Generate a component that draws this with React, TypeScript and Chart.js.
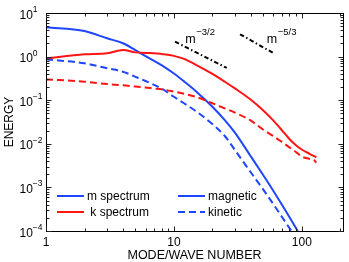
import React, { useEffect, useRef } from "react";
import { Chart, registerables } from "chart.js";

Chart.register(...registerables);

// ---- data ----
const WAVE_NUMBERS = [1, 2, 3, 4, 5, 6, 7, 8, 10, 12, 15, 20, 25, 30, 40, 50, 60, 70, 80, 90, 100, 115, 125, 130];
const M_MAGNETIC = [4.7, 3.86, 2.63, 2.02, 1.4, 1.03, 0.8, 0.64, 0.41, 0.27, 0.157, 0.071, 0.035, 0.018, 0.0051, 0.0019, 0.00083, 0.0004, 0.00021, 0.000117, 0.000068, 0.00003, 0.000017, 0.000013];
const M_KINETIC = [0.87, 0.7, 0.54, 0.45, 0.344, 0.275, 0.225, 0.185, 0.12, 0.085, 0.055, 0.0284, 0.0151, 0.0072, 0.0022, 0.00089, 0.00041, 0.00021, 0.000117, 0.00007, 0.000045, 0.00002, 0.000012, 0.00001];
const K_MAGNETIC = [0.91, 1.13, 1.19, 1.42, 1.25, 1.21, 1.2, 1.15, 1.04, 0.885, 0.64, 0.4, 0.265, 0.186, 0.102, 0.058, 0.034, 0.0204, 0.0129, 0.0093, 0.0074, 0.0059, 0.0052, 0.0049];
const K_KINETIC = [0.3, 0.266, 0.235, 0.22, 0.205, 0.195, 0.185, 0.178, 0.157, 0.14, 0.118, 0.085, 0.065, 0.052, 0.034, 0.021, 0.015, 0.011, 0.0083, 0.0065, 0.0051, 0.0045, 0.0042, 0.0037];

const SLOPE_32_K = [10.2, 25.9];
const SLOPE_32_E = [2.2, 0.55];
const SLOPE_53_K = [32.9, 61.7];
const SLOPE_53_E = [3.25, 1.15];
const SLOPE_LABEL_TEXT = ["\u22123/2", "\u22125/3"];
const SLOPE_LABEL_K = [12.4, 53.7];
const SLOPE_LABEL_E = [2.02, 2.02];

const X_TICKS = [1, 10, 100];
const X_TICK_LABELS = ["1", "10", "100"];
const Y_DECADES = [-4, -3, -2, -1, 0, 1];
const Y_EXPONENT_LABELS = ["\u22124", "\u22123", "\u22122", "\u22121", "0", "1"];
const X_TITLE = "MODE/WAVE NUMBER";
const Y_TITLE = "ENERGY";
const LEGEND_LABELS = ["m spectrum", " k spectrum", "magnetic", "kinetic"];

const X_MIN = 1;
const X_MAX = 210;
const Y_MIN = 1e-4;
const Y_MAX = 10;

const BLUE = "#1e46ff";
const RED = "#ff1414";
const FONT = '"Liberation Sans", Arial, Helvetica, sans-serif';

const pts = (xs: number[], ys: number[]) => xs.map((x, i) => ({ x, y: ys[i] }));

const decorPlugin = {
  id: "decor",
  afterDraw(chart: any) {
    const { ctx, chartArea: a, scales } = chart;
    const xs = scales.x;
    const ys = scales.y;
    ctx.save();

    // frame
    ctx.strokeStyle = "#000";
    ctx.lineWidth = 1;
    ctx.setLineDash([]);
    ctx.strokeRect(a.left + 0.5, a.top + 0.5, a.right - a.left, a.bottom - a.top);

    const majorLen = 4.5;
    const minorLen = 2.5;
    ctx.strokeStyle = "#222";
    ctx.beginPath();
    const xTickVals: { v: number; major: boolean }[] = [];
    for (let d = 1; d <= 100; d *= 10) {
      for (let m = 1; m <= 9; m++) {
        const v = d * m;
        if (v >= X_MIN && v <= X_MAX) xTickVals.push({ v, major: m === 1 });
      }
    }
    xTickVals.forEach(({ v, major }) => {
      const px = Math.round(xs.getPixelForValue(v)) + 0.5;
      const len = major ? majorLen : minorLen;
      ctx.moveTo(px, a.bottom);
      ctx.lineTo(px, a.bottom - len);
      ctx.moveTo(px, a.top + 1);
      ctx.lineTo(px, a.top + 1 + len);
    });
    for (let e = -4; e <= 0; e++) {
      for (let m = 1; m <= 9; m++) {
        const v = m * Math.pow(10, e);
        const py = Math.round(ys.getPixelForValue(v)) + 0.5;
        const len = m === 1 ? majorLen : minorLen;
        ctx.moveTo(a.left + 1, py);
        ctx.lineTo(a.left + 1 + len, py);
        ctx.moveTo(a.right, py);
        ctx.lineTo(a.right - len, py);
      }
    }
    ctx.stroke();

    // x tick labels
    ctx.fillStyle = "#000";
    ctx.font = `12px ${FONT}`;
    ctx.textAlign = "center";
    ctx.textBaseline = "alphabetic";
    X_TICKS.forEach((v, i) => {
      ctx.fillText(X_TICK_LABELS[i], xs.getPixelForValue(v), a.bottom + 14.5);
    });

    // y tick labels (10 with superscript exponent)
    Y_DECADES.forEach((e, i) => {
      const py = ys.getPixelForValue(Math.pow(10, e));
      ctx.textAlign = "left";
      ctx.font = `12px ${FONT}`;
      const baseX = a.left - 26.5;
      ctx.fillText("10", baseX, py + 5.5);
      const w = ctx.measureText("10").width;
      ctx.font = `8.5px ${FONT}`;
      ctx.fillText(Y_EXPONENT_LABELS[i], baseX + w, py - 1);
    });

    // axis titles
    ctx.font = `12.5px ${FONT}`;
    ctx.textAlign = "center";
    ctx.fillText(X_TITLE, (a.left + a.right) / 2, a.bottom + 28.3);
    ctx.save();
    ctx.translate(13, (a.top + a.bottom) / 2);
    ctx.rotate(-Math.PI / 2);
    ctx.font = `12px ${FONT}`;
    ctx.fillText(Y_TITLE, 0, 0);
    ctx.restore();

    // slope labels
    SLOPE_LABEL_TEXT.forEach((t, i) => {
      const px = xs.getPixelForValue(SLOPE_LABEL_K[i]);
      const py = ys.getPixelForValue(SLOPE_LABEL_E[i]);
      ctx.textAlign = "left";
      ctx.font = `12.5px ${FONT}`;
      ctx.fillText("m", px - 0.5, py);
      const w = ctx.measureText("m").width;
      ctx.font = `9.5px ${FONT}`;
      ctx.fillText(t, px + w, py - 8.5);
    });

    // legend
    const legendItems = [
      { label: LEGEND_LABELS[0], color: BLUE, dash: [] as number[], col: 0, row: 0 },
      { label: LEGEND_LABELS[1], color: RED, dash: [] as number[], col: 0, row: 1 },
      { label: LEGEND_LABELS[2], color: BLUE, dash: [] as number[], col: 1, row: 0 },
      { label: LEGEND_LABELS[3], color: BLUE, dash: [7, 4], col: 1, row: 1 },
    ];
    const colX = [a.left + 11, a.left + 132];
    const rowY = [a.bottom - 35, a.bottom - 19];
    legendItems.forEach((it) => {
      const x0 = colX[it.col];
      const y0 = rowY[it.row];
      ctx.strokeStyle = it.color;
      ctx.lineWidth = 2;
      ctx.setLineDash(it.dash);
      ctx.beginPath();
      ctx.moveTo(x0, y0);
      ctx.lineTo(x0 + 27, y0);
      ctx.stroke();
      ctx.setLineDash([]);
      ctx.fillStyle = "#000";
      ctx.font = `12px ${FONT}`;
      ctx.textAlign = "left";
      ctx.fillText(it.label, x0 + 30, y0 + 4);
    });

    ctx.restore();
  },
};

export default function App() {
  const canvasRef = useRef<HTMLCanvasElement | null>(null);

  useEffect(() => {
    document.body.style.margin = "0";
    const canvas = canvasRef.current;
    if (!canvas) return;
    const slopeStyle = {
      borderColor: "#000",
      borderWidth: 2,
      borderDash: [4.5, 2.5, 1.5, 2.5],
      pointRadius: 0,
      fill: false,
    };
    const lineStyle = {
      borderWidth: 2,
      pointRadius: 0,
      fill: false,
      cubicInterpolationMode: "monotone" as const,
    };
    const chart = new Chart(canvas, {
      type: "line",
      data: {
        datasets: [
          { ...lineStyle, label: "k kinetic", data: pts(WAVE_NUMBERS, K_KINETIC), borderColor: RED, borderDash: [7, 4] },
          { ...lineStyle, label: "m kinetic", data: pts(WAVE_NUMBERS, M_KINETIC), borderColor: BLUE, borderDash: [7, 4] },
          { ...lineStyle, label: "k magnetic", data: pts(WAVE_NUMBERS, K_MAGNETIC), borderColor: RED },
          { ...lineStyle, label: "m magnetic", data: pts(WAVE_NUMBERS, M_MAGNETIC), borderColor: BLUE },
          { ...slopeStyle, label: "m^-3/2", data: pts(SLOPE_32_K, SLOPE_32_E) },
          { ...slopeStyle, label: "m^-5/3", data: pts(SLOPE_53_K, SLOPE_53_E) },
        ],
      },
      options: {
        responsive: false,
        animation: false,
        devicePixelRatio: 1,
        layout: { padding: { left: 46, top: 13, right: 6, bottom: 31 } },
        scales: {
          x: { type: "logarithmic", min: X_MIN, max: X_MAX, display: false },
          y: { type: "logarithmic", min: Y_MIN, max: Y_MAX, display: false },
        },
        plugins: {
          legend: { display: false },
          tooltip: { enabled: false },
        },
      },
      plugins: [decorPlugin],
    });
    return () => chart.destroy();
  }, []);

  return (
    <div style={{ position: "fixed", left: 0, top: 0, width: 349, height: 262, background: "#fff" }}>
      <canvas ref={canvasRef} width={349} height={262} style={{ display: "block" }} />
    </div>
  );
}
